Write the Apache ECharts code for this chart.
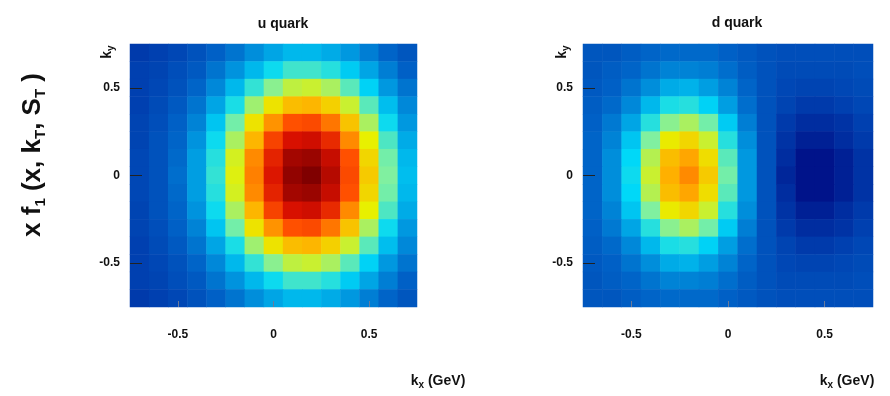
<!DOCTYPE html>
<html>
<head>
<meta charset="utf-8">
<script src="https://cdn.jsdelivr.net/npm/echarts@6/dist/echarts.min.js"></script>
<style>
  html, body { margin: 0; padding: 0; background: #fff; }
  #myChart { width: 890px; height: 396px; }
</style>
</head>
<body>
<div id="myChart"></div>
<script>
// cell centres (GeV)
var kxValues = [-0.7, -0.6, -0.5, -0.4, -0.3, -0.2, -0.1, 0, 0.1, 0.2, 0.3, 0.4, 0.5, 0.6, 0.7];
var kyValues = [-0.7, -0.6, -0.5, -0.4, -0.3, -0.2, -0.1, 0, 0.1, 0.2, 0.3, 0.4, 0.5, 0.6, 0.7];
var tickValues = [-0.5, 0, 0.5];
var panelTitles = ['u quark', 'd quark'];

// rows from ky = 0.7 (top) down to ky = -0.7
var uRows = [
  [ 9, 10, 12, 15, 19, 23, 28, 32, 35, 35, 33, 30, 25, 20, 16],
  [10, 11, 14, 17, 23, 29, 35, 41, 45, 45, 43, 38, 32, 25, 19],
  [10, 12, 15, 20, 27, 35, 44, 51, 56, 57, 54, 47, 39, 30, 23],
  [10, 13, 17, 23, 32, 42, 53, 62, 68, 69, 65, 57, 47, 36, 27],
  [11, 14, 19, 26, 37, 49, 62, 73, 80, 81, 76, 67, 54, 41, 30],
  [11, 15, 20, 29, 41, 54, 69, 82, 90, 91, 86, 74, 60, 46, 33],
  [12, 15, 21, 31, 43, 58, 74, 87, 96, 97, 92, 80, 64, 49, 35],
  [12, 15, 22, 31, 44, 59, 75, 89, 98,100, 94, 81, 66, 50, 36],
  [12, 15, 21, 31, 43, 58, 74, 87, 96, 97, 92, 80, 64, 49, 35],
  [11, 15, 20, 29, 41, 54, 69, 82, 90, 91, 86, 74, 60, 46, 33],
  [11, 14, 19, 26, 37, 49, 62, 73, 80, 81, 76, 67, 54, 41, 30],
  [10, 13, 17, 23, 32, 42, 53, 62, 68, 69, 65, 57, 47, 36, 27],
  [10, 12, 15, 20, 27, 35, 44, 51, 56, 57, 54, 47, 39, 30, 23],
  [10, 11, 14, 17, 23, 29, 35, 41, 45, 45, 43, 38, 32, 25, 19],
  [ 9, 10, 12, 15, 19, 23, 28, 32, 35, 35, 33, 30, 25, 20, 16]
];
var dRows = [
  [16, 16, 18, 20, 21, 21, 21, 19, 17, 15, 14, 14, 14, 14, 14],
  [16, 18, 20, 23, 26, 26, 25, 22, 18, 15, 13, 13, 13, 13, 14],
  [17, 19, 23, 28, 33, 34, 31, 26, 20, 15, 12, 11, 11, 12, 13],
  [18, 21, 27, 35, 42, 43, 39, 31, 22, 15, 11,  9,  9, 10, 12],
  [19, 24, 32, 43, 51, 54, 49, 38, 25, 15,  9,  7,  7,  8, 10],
  [20, 26, 37, 50, 61, 64, 57, 43, 28, 15,  8,  5,  5,  7,  9],
  [20, 28, 40, 55, 68, 71, 63, 47, 30, 15,  7,  3,  3,  5,  8],
  [20, 28, 41, 57, 70, 74, 66, 49, 30, 15,  6,  3,  3,  5,  8],
  [20, 28, 40, 55, 68, 71, 63, 47, 30, 15,  7,  3,  3,  5,  8],
  [20, 26, 37, 50, 61, 64, 57, 43, 28, 15,  8,  5,  5,  7,  9],
  [19, 24, 32, 43, 51, 54, 49, 38, 25, 15,  9,  7,  7,  8, 10],
  [18, 21, 27, 35, 42, 43, 39, 31, 22, 15, 11,  9,  9, 10, 12],
  [17, 19, 23, 28, 33, 34, 31, 26, 20, 15, 12, 11, 11, 12, 13],
  [16, 18, 20, 23, 26, 26, 25, 22, 18, 15, 13, 13, 13, 13, 14],
  [16, 16, 18, 20, 21, 21, 21, 19, 17, 15, 14, 14, 14, 14, 14]
];

var jetColors = ['#00007a', '#0040b0', '#0064c8', '#0098e0', '#00d8f8', '#80f0a0',
                 '#e8f000', '#ffb000', '#ff5000', '#d81000', '#800000'];

function toCells(rows) {
    var cells = []
    for (var r = 0; r < rows.length; r++) {
        for (var c = 0; c < rows[r].length; c++) {
            cells.push([c, rows.length - 1 - r, rows[r][c]])
        }
    }
    return cells
}

function valueX(gi) {
    return {
        gridIndex: gi, type: 'value', position: 'bottom', min: -0.75, max: 0.75, z: 10,
        axisLine: {show: false}, splitLine: {show: false},
        axisTick: {inside: true, length: 6, customValues: tickValues, lineStyle: {color: '#6a7a9a'}},
        axisLabel: {customValues: tickValues, margin: 22, color: '#111',
                    fontWeight: 'bold', fontSize: 12, fontFamily: 'Liberation Sans'}
    }
}

function valueY(gi) {
    return {
        gridIndex: gi, type: 'value', position: 'left', min: -0.75, max: 0.75, z: 10,
        axisLine: {show: false}, splitLine: {show: false},
        axisTick: {inside: true, length: 12, customValues: tickValues, lineStyle: {color: '#222'}},
        axisLabel: {customValues: tickValues, margin: 10, color: '#111',
                    fontWeight: 'bold', fontSize: 12, fontFamily: 'Liberation Sans'}
    }
}

function label(x, y, rich, rot, bigSize, subSize) {
    return {
        type: 'text', x: x, y: y, rotation: rot, z: 10,
        style: {
            text: rich, align: 'center', verticalAlign: 'middle',
            rich: {
                a: {font: 'bold ' + bigSize + 'px "Liberation Sans"', fill: '#111', lineHeight: bigSize + 4},
                s: {font: 'bold ' + subSize + 'px "Liberation Sans"', fill: '#111', lineHeight: bigSize + 4, verticalAlign: 'bottom'}
            }
        }
    }
}

function _initChart() {
    var myChart = echarts.init(document.getElementById('myChart'));
    var option = {
        animation: false,
        grid: [
            {left: 130, top: 44, width: 287, height: 263, outerBoundsMode: 'none'},
            {left: 583, top: 44, width: 290, height: 263, outerBoundsMode: 'none'}
        ],
        xAxis: [
            {gridIndex: 0, type: 'category', position: 'top', data: kxValues, show: false},
            {gridIndex: 1, type: 'category', position: 'top', data: kxValues, show: false},
            valueX(0),
            valueX(1)
        ],
        yAxis: [
            {gridIndex: 0, type: 'category', position: 'right', data: kyValues, show: false},
            {gridIndex: 1, type: 'category', position: 'right', data: kyValues, show: false},
            valueY(0),
            valueY(1)
        ],
        visualMap: [
            {show: false, seriesIndex: 0, min: 0, max: 100, inRange: {color: jetColors}},
            {show: false, seriesIndex: 1, min: 0, max: 100, inRange: {color: jetColors}}
        ],
        series: [
            {name: panelTitles[0], type: 'heatmap', xAxisIndex: 0, yAxisIndex: 0, z: 1, data: toCells(uRows)},
            {name: panelTitles[1], type: 'heatmap', xAxisIndex: 1, yAxisIndex: 1, z: 1, data: toCells(dRows)}
        ],
        graphic: [
            label(283, 24, '{a|' + panelTitles[0] + '}', 0, 14, 10),
            label(737, 23, '{a|' + panelTitles[1] + '}', 0, 14, 10),
            label(438, 381, '{a|k}{s|x}{a| (GeV)}', 0, 14, 10),
            label(847, 381, '{a|k}{s|x}{a| (GeV)}', 0, 14, 10),
            label(107, 52, '{a|k}{s|y}', Math.PI / 2, 14, 10),
            label(562, 52, '{a|k}{s|y}', Math.PI / 2, 14, 10),
            label(33, 155, '{a|x f}{s|1}{a| (x, k}{s|T}{a|, S}{s|T}{a| )}', Math.PI / 2, 26, 15)
        ]
    };
    myChart.setOption(option)
    // 根据窗口自适应
    window.addEventListener('resize', function () {
        myChart.resize()
    })
}

_initChart()
</script>
</body>
</html>
